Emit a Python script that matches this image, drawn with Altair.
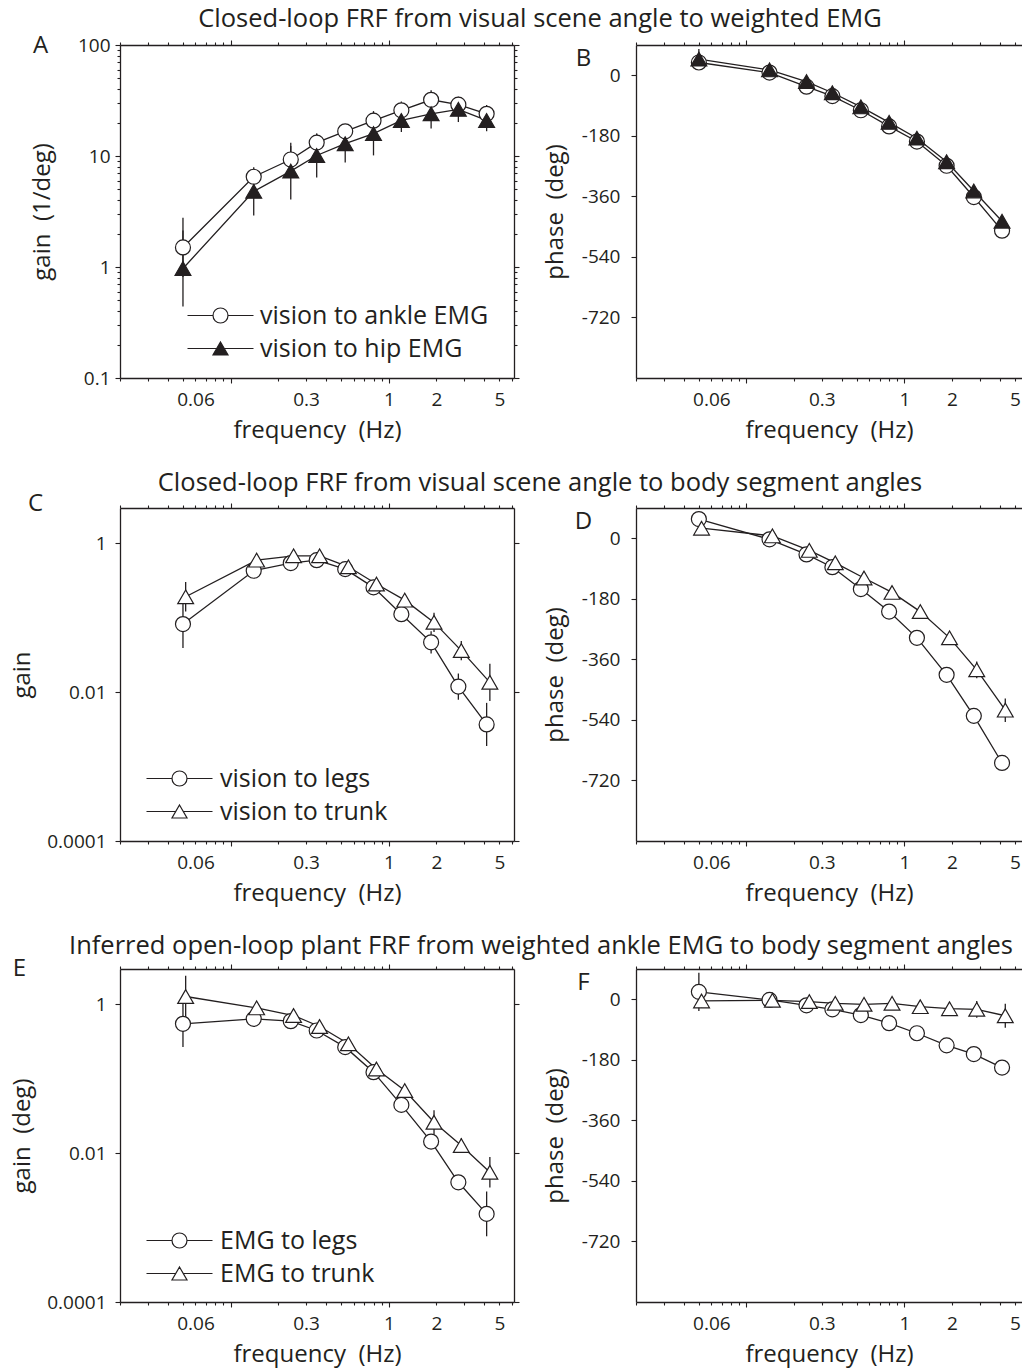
import altair as alt
import pandas as pd

FONT = "Open Sans"
INK = "#231f20"

# ---------------- data ----------------
FREQ = [0.05, 0.14, 0.24, 0.35, 0.53, 0.8, 1.2, 1.85, 2.75, 4.15]
FREQ_TRI = [0.052, 0.146, 0.25, 0.365, 0.555, 0.835, 1.26, 1.93, 2.87, 4.35]

# A: gain (1/deg), error given as multiplicative factor
A_ANKLE = [1.5, 6.5, 9.3, 13.2, 16.7, 20.8, 25.8, 32.1, 29.0, 24.0]
A_ANKLE_ERR = [1.85, 1.15, 1.32, 1.2, 1.12, 1.22, 1.2, 1.22, 1.14, 1.2]
A_HIP = [0.97, 4.8, 7.3, 10.1, 12.9, 15.9, 20.9, 24.0, 26.3, 20.9]
A_HIP_ERR = [2.2, 1.65, 1.8, 1.58, 1.48, 1.57, 1.27, 1.36, 1.3, 1.25]

# B: phase (deg), error in deg
B_ANKLE = [38, 8, -34, -62, -104, -152, -197, -269, -362, -462]
B_ANKLE_ERR = [10, 4, 4, 4, 4, 4, 4, 5, 5, 6]
B_HIP = [48, 16, -19, -52, -94, -140, -187, -257, -344, -434]
B_HIP_ERR = [30, 4, 4, 4, 4, 4, 4, 5, 5, 6]

# C: gain
C_LEGS = [0.0826, 0.43, 0.545, 0.597, 0.452, 0.257, 0.112, 0.0469, 0.0119, 0.00369]
C_LEGS_ERR = [2.1, 1.12, 1.1, 1.1, 1.12, 1.17, 1.2, 1.41, 1.5, 1.95]
C_TRUNK = [0.192, 0.597, 0.683, 0.683, 0.486, 0.285, 0.173, 0.087, 0.0363, 0.0136]
C_TRUNK_ERR = [1.58, 1.12, 1.1, 1.1, 1.12, 1.15, 1.17, 1.35, 1.35, 1.78]

# D: phase
D_LEGS = [57, -3, -48, -86, -151, -218, -296, -406, -528, -668]
D_LEGS_ERR = [12, 5, 5, 5, 5, 5, 5, 8, 8, 10]
D_TRUNK = [30, 7, -36, -73, -118, -161, -218, -296, -391, -511]
D_TRUNK_ERR = [15, 5, 5, 5, 5, 5, 8, 15, 25, 35]

# E: gain (deg)
E_LEGS = [0.55, 0.641, 0.597, 0.447, 0.267, 0.123, 0.0447, 0.01435, 0.00407, 0.00153]
E_LEGS_ERR = [2.05, 1.1, 1.08, 1.08, 1.08, 1.1, 1.1, 1.2, 1.2, 2.0]
E_TRUNK = [1.28, 0.90, 0.711, 0.506, 0.296, 0.136, 0.0697, 0.0261, 0.0127, 0.00555]
E_TRUNK_ERR = [1.9, 1.08, 1.08, 1.08, 1.08, 1.1, 1.1, 1.45, 1.25, 1.6]

# F: phase
F_LEGS = [22, -2, -18, -30, -47, -71, -101, -137, -163, -203]
F_LEGS_ERR = [57, 5, 5, 5, 5, 5, 5, 5, 5, 5]
F_TRUNK = [-5, -3, -7, -12, -15, -12, -22, -28, -30, -49]
F_TRUNK_ERR = [20, 5, 8, 8, 8, 8, 12, 18, 25, 36]

ROW_TITLES = [
    "Closed-loop FRF from visual scene angle to weighted EMG",
    "Closed-loop FRF from visual scene angle to body segment angles",
    "Inferred open-loop plant FRF from weighted ankle EMG to body segment angles",
]
LEGEND_A = ["vision to ankle EMG", "vision to hip EMG"]
LEGEND_C = ["vision to legs", "vision to trunk"]
LEGEND_E = ["EMG to legs", "EMG to trunk"]

XTICKS_L = [0.02, 0.03, 0.04, 0.05, 0.06, 0.07, 0.08, 0.09, 0.1, 0.2, 0.3, 0.4,
            0.5, 0.6, 0.7, 0.8, 0.9, 1, 2, 3, 4, 5, 6]
XTICKS_R = [0.02, 0.03, 0.04, 0.05, 0.06, 0.07, 0.08, 0.09, 0.1, 0.2, 0.3, 0.4,
            0.5, 0.6, 0.7, 0.8, 0.9, 1, 2, 3, 4, 5]
XLABELS = [0.06, 0.3, 1, 2, 5]
GAIN_A_TICKS = [0.1, 0.2, 0.3, 0.4, 0.5, 0.6, 0.7, 0.8, 0.9, 1, 2, 3, 4, 5, 6, 7, 8, 9,
                10, 20, 30, 40, 50, 60, 70, 80, 90, 100]
GAIN_A_LABELS = [0.1, 1, 10, 100]
GAIN_CE_TICKS = [0.0001, 0.01, 1]
PHASE_TICKS = [0, -180, -360, -540, -720]

# ---------------- layout constants ----------------
H = 333
WL, WR = 394, 386
XDOM_L = [0.02, 6.18]
XDOM_R = [0.02, 5.55]
CIRCLE_PATH = "M-4.4,0L-1,0M1,0L4.4,0M-1,0A1,1,0,1,0,1,0A1,1,0,1,0,-1,0Z"
TRI_PATH = "M-4.4,0L-0.5,0M0.5,0L4.4,0M0,-0.866L1,0.866L-1,0.866Z"


def cond(test, major, minor):
    return {"condition": {"test": test, "value": major}, "value": minor}


def in_list(vals):
    return "indexof([" + ",".join(str(v) for v in vals) + "], datum.value) >= 0"


def frame(freq, val, err, mode):
    if mode == "log":
        lo = [v / e for v, e in zip(val, err)]
        hi = [v * e for v, e in zip(val, err)]
    else:
        lo = [v - e for v, e in zip(val, err)]
        hi = [v + e for v, e in zip(val, err)]
    return pd.DataFrame({"f": freq, "v": val, "lo": lo, "hi": hi})


X_MAJOR = "datum.value == 0.1 || datum.value == 1"


def panel(p):
    w = p["w"]
    xs = alt.Scale(type="log", domain=p["xdom"], nice=False)
    ys = alt.Scale(type=p["ytype"], domain=p["ydom"], nice=False, zero=False)
    x_bottom = alt.Axis(
        orient="bottom", values=p["xticks"],
        labelExpr=in_list(XLABELS) + " ? toString(datum.value) : ''",
        tickSize=cond(X_MAJOR, 5, 3), labelPadding=cond(X_MAJOR, 7, 9),
        title="frequency\u00a0 (Hz)", titleX=w / 2, titleY=52,
        titleBaseline="middle", titleAlign="center",
        labelFlush=False, labelOverlap=False)
    y_left = alt.Axis(
        orient="left", values=p["yticks"], labelExpr=p["ylabel"],
        tickSize=cond(p["ymajor"], 5, 3),
        labelPadding=cond(p["ymajor"], p["ypad"], p["ypad"] + 2),
        title=p["ytitle"], titleX=p["ytx"], titleY=H / 2, titleAngle=270,
        titleBaseline="middle", titleAlign="center",
        labelFlush=False, labelOverlap=False)
    x_top = alt.Axis(
        orient="top", values=p["xticks"], labels=False,
        tickSize=cond(X_MAJOR, 5, 3),
        title=p["letter"], titleX=p["lx"], titleY=p["ly"], titleAngle=0,
        titleBaseline="middle", titleAlign="center", titleFontSize=24)
    if p["right"]:
        y_right = alt.Axis(orient="right", values=p["yticks"], labels=False,
                           tickSize=cond(p["ymajor"], 5, 3), title=None)
    else:
        y_right = None

    circ = frame(FREQ, p["c"], p["ce"], p["mode"])
    tri = frame(p["tf"], p["t"], p["te"], p["mode"])

    def X(axis=None):
        return alt.X("f:Q", scale=xs, axis=axis)

    def Y(field="v", axis=None):
        return alt.Y(field + ":Q", scale=ys, axis=axis)

    layers = [
        alt.Chart(circ).mark_line(color=INK, strokeWidth=1.3).encode(
            x=X(x_bottom), y=Y("v", y_left)),
        alt.Chart(tri).mark_line(color=INK, strokeWidth=1.3).encode(x=X(), y=Y()),
        alt.Chart(circ).mark_rule(color=INK, strokeWidth=1.3).encode(
            x=X(), y=Y("lo"), y2="hi:Q"),
        alt.Chart(tri).mark_rule(color=INK, strokeWidth=1.3).encode(
            x=X(), y=Y("lo"), y2="hi:Q"),
        alt.Chart(circ).mark_point(shape="circle", size=225, filled=True, fill="white",
                                   stroke=INK, strokeWidth=1.2, opacity=1).encode(
            x=X(), y=Y()),
        alt.Chart(tri).mark_point(shape="triangle-up", size=250, filled=True,
                                  fill=p["tfill"], stroke=INK, strokeWidth=1.2,
                                  opacity=1).encode(x=X(), y=Y()),
    ]
    if p.get("legend"):
        names = p["legend"]
        leg_df = pd.DataFrame({"f": [FREQ[0], FREQ[1]], "v": [p["c"][0], p["t"][0]],
                               "s": names})
        leg = alt.Legend(orient="none", legendX=p["lgx"], legendY=p["lgy"], title=None,
                         labelFont=FONT, labelFontSize=25, labelColor=INK,
                         symbolSize=225, symbolStrokeWidth=1.2, symbolStrokeColor=INK,
                         labelOffset=p["lgo"], rowPadding=7, padding=0, labelLimit=500)
        layers.append(
            alt.Chart(leg_df).transform_filter("false").mark_point(
                filled=True, strokeWidth=1.2, opacity=1).encode(
                x=X(), y=Y(),
                shape=alt.Shape("s:N", scale=alt.Scale(domain=names,
                                range=[CIRCLE_PATH, TRI_PATH]), legend=leg),
                fill=alt.Fill("s:N", scale=alt.Scale(domain=names,
                              range=["white", p["tfill"]]), legend=leg),
                stroke=alt.Stroke("s:N", scale=alt.Scale(domain=names,
                                  range=[INK, INK]), legend=leg)))
    layers.append(
        alt.Chart(circ).mark_point(opacity=0).encode(x=X(x_top), y=Y("v", y_right)))
    return alt.layer(*layers).resolve_axis(x="independent", y="independent").properties(
        width=w, height=H)


GAIN_A_LABEL = in_list(GAIN_A_LABELS) + " ? toString(datum.value) : ''"
GAIN_A_MAJOR = in_list(GAIN_A_LABELS)
PLAIN = "toString(datum.value)"
ALL = "true"

common_l = dict(w=WL, xdom=XDOM_L, xticks=XTICKS_L, mode="log", ytype="log", right=True)
common_r = dict(w=WR, xdom=XDOM_R, xticks=XTICKS_R, mode="lin", ytype="linear",
                right=False, ydom=[-900, 90], yticks=PHASE_TICKS, ylabel=PLAIN,
                ymajor=ALL, ypad=11, ytitle="phase\u00a0 (deg)", ytx=-81, lx=-53, ly=13)

pA = panel(dict(common_l, ydom=[0.1, 100], yticks=GAIN_A_TICKS, ylabel=GAIN_A_LABEL,
                ymajor=GAIN_A_MAJOR, ypad=5, ytitle="gain\u00a0 (1/deg)", ytx=-78,
                letter="A", lx=-80, ly=0, c=A_ANKLE, ce=A_ANKLE_ERR, t=A_HIP,
                te=A_HIP_ERR, tf=FREQ, tfill=INK, legend=LEGEND_A,
                lgx=88, lgy=258, lgo=27))
pB = panel(dict(common_r, letter="B", c=B_ANKLE, ce=B_ANKLE_ERR, t=B_HIP,
                te=B_HIP_ERR, tf=FREQ, tfill=INK))
pC = panel(dict(common_l, ydom=[0.0001, 3], yticks=GAIN_CE_TICKS, ylabel=PLAIN,
                ymajor=ALL, ypad=9, ytitle="gain", ytx=-98, letter="C", lx=-85, ly=-5,
                c=C_LEGS, ce=C_LEGS_ERR, t=C_TRUNK, te=C_TRUNK_ERR, tf=FREQ_TRI,
                tfill="white", legend=LEGEND_C, lgx=47, lgy=258, lgo=28))
pD = panel(dict(common_r, letter="D", c=D_LEGS, ce=D_LEGS_ERR, t=D_TRUNK,
                te=D_TRUNK_ERR, tf=FREQ_TRI, tfill="white"))
pE = panel(dict(common_l, ydom=[0.0001, 3], yticks=GAIN_CE_TICKS, ylabel=PLAIN,
                ymajor=ALL, ypad=9, ytitle="gain\u00a0 (deg)", ytx=-98, letter="E",
                lx=-101, ly=-1, c=E_LEGS, ce=E_LEGS_ERR, t=E_TRUNK, te=E_TRUNK_ERR,
                tf=FREQ_TRI, tfill="white", legend=LEGEND_E, lgx=47, lgy=259, lgo=28))
pF = panel(dict(common_r, letter="F", c=F_LEGS, ce=F_LEGS_ERR, t=F_TRUNK,
                te=F_TRUNK_ERR, tf=FREQ_TRI, tfill="white"))


def row(a, b, text, offset, dx):
    return alt.hconcat(a, b, spacing=23).properties(
        title=alt.Title(text, fontSize=25.5, font=FONT, fontWeight="normal", color=INK,
                        anchor="middle", offset=offset, dx=dx)
    ).resolve_scale(shape="independent", fill="independent", stroke="independent")


chart = alt.vconcat(
    row(pA, pB, ROW_TITLES[0], 1, 14),
    row(pC, pD, ROW_TITLES[1], -5, 24),
    row(pE, pF, ROW_TITLES[2], -3, 25),
    spacing=28,
).resolve_scale(
    shape="independent", fill="independent", stroke="independent"
).properties(
    padding={"left": 10, "top": 6, "right": 0, "bottom": 6}
).configure(font=FONT).configure_view(stroke=None).configure_axis(
    labelFont=FONT, titleFont=FONT, labelFontSize=19, titleFontSize=24,
    titleFontWeight="normal", labelColor=INK, titleColor=INK, domainColor=INK,
    tickColor=INK, domainWidth=1.3, tickWidth=1.1, grid=False,
)

chart.save("out.html", embed_options={"renderer": "svg", "actions": False})
